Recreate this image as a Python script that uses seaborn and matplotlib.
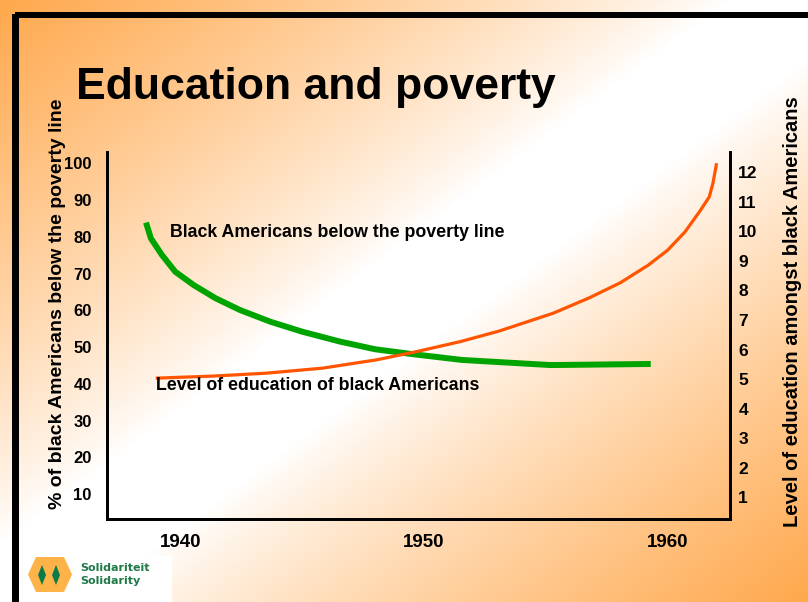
import numpy as np
import pandas as pd
import matplotlib
matplotlib.use("Agg")
import matplotlib.pyplot as plt
from matplotlib.patches import Rectangle, Polygon
from matplotlib import font_manager
import seaborn as sns

# ---- data ----
years_poverty = [1938.6, 1938.8, 1939.25, 1939.8, 1940.55, 1941.45, 1942.45, 1943.7,
                 1945.0, 1946.55, 1948.0, 1949.5, 1951.55, 1953.1, 1955.2, 1959.3]
poverty_pct = [83.9, 79.6, 75.1, 70.5, 66.9, 63.3, 60.1, 56.9,
               54.2, 51.5, 49.4, 48.1, 46.5, 45.9, 45.1, 45.4]

years_education = [1939.0, 1941.35, 1943.55, 1945.85, 1948.05, 1949.7, 1951.5, 1953.1,
                   1955.3, 1956.75, 1958.05, 1959.2, 1960.0, 1960.7, 1961.3, 1961.7,
                   1961.85, 1962.0]
education_level = [5.03, 5.10, 5.20, 5.37, 5.65, 5.93, 6.27, 6.63,
                   7.23, 7.74, 8.26, 8.86, 9.37, 9.98, 10.67, 11.17,
                   11.63, 12.31]

x_ticks = [1940, 1950, 1960]
left_ticks = [10, 20, 30, 40, 50, 60, 70, 80, 90, 100]
right_ticks = list(range(1, 13))

title = "Education and poverty"
left_label = "% of black Americans below the poverty line"
right_label = "Level of education amongst black Americans"
poverty_note = "Black Americans below the poverty line"
education_note = "Level of education of black Americans"

df_pov = pd.DataFrame({"year": years_poverty, "value": poverty_pct})
df_edu = pd.DataFrame({"year": years_education, "value": education_level})

sns.set_style("white")
plt.rcParams["font.family"] = ["Liberation Sans", "DejaVu Sans"]
for k in ("text.color", "axes.labelcolor", "xtick.color", "ytick.color"):
    plt.rcParams[k] = "black"

installed = {f.name for f in font_manager.fontManager.ttflist}
narrow = ["Liberation Sans Narrow", "Liberation Sans"] if "Liberation Sans Narrow" in installed \
    else ["Liberation Sans"]

W, H = 808, 602
fig = plt.figure(figsize=(W / 100, H / 100), dpi=100)

# ---- background gradient ----
bg = fig.add_axes([0, 0, 1, 1], zorder=-10)
yy, xx = np.mgrid[0:H, 0:W]
d = xx / W + yy / H - 1
a = np.clip((np.abs(d) - 0.1) / 0.9, 0, 1) ** 0.85
orange = np.array([255, 168, 76]) / 255
img = 1 - a[..., None] * (1 - orange)
bg.imshow(img, aspect="auto", extent=[0, W, H, 0])
bg.set_xlim(0, W)
bg.set_ylim(H, 0)
bg.axis("off")

# frame (black bars top and left)
bg.add_patch(Rectangle((15, 11.5), W - 15, 6.2, color="black", lw=0))
bg.add_patch(Rectangle((12, 14), 7, H - 14, color="black", lw=0))

# logo
bg.add_patch(Rectangle((19, 556), 153, 46, color="white", lw=0))
bg.add_patch(Polygon([(28, 574.5), (36, 557), (64, 557), (72, 574.5), (64, 592), (36, 592)],
                     closed=True, color="#FDB347", lw=0))
for cx in (42, 56):
    bg.add_patch(Polygon([(cx - 4, 575), (cx, 565), (cx + 4, 575), (cx, 585)],
                         closed=True, color="#0B7A4B", lw=0))
bg.text(80, 568, "Solidariteit", color="#1F7A48", fontsize=8, fontweight="bold",
        va="center", ha="left", family=["DejaVu Sans"])
bg.text(80, 581, "Solidarity", color="#1F7A48", fontsize=8, fontweight="bold",
        va="center", ha="left", family=["DejaVu Sans"])

# ---- main axes ----
ax = fig.add_axes([107 / W, 1 - 519 / H, (730 - 107) / W, (519 - 152) / H])
ax.set_facecolor("none")
ax2 = ax.twinx()
ax2.set_facecolor("none")

sns.lineplot(data=df_pov, x="year", y="value", ax=ax, color="#00A400", lw=4.3,
             solid_capstyle="butt")
sns.lineplot(data=df_edu, x="year", y="value", ax=ax2, color="#FF5500", lw=2.3,
             solid_capstyle="butt")

ax.set_xlim(1937.0, 1962.55)
ax.set_ylim(3.2, 103.1)
ax2.set_ylim(0.26, 12.69)

ax.set_xticks(x_ticks)
ax.set_xticklabels([str(t) for t in x_ticks], fontsize=13.5, fontweight="bold")
ax.set_yticks(left_ticks)
ax.set_yticklabels([str(t) for t in left_ticks], fontsize=12, fontweight="bold",
                   family=narrow)
ax2.set_yticks(right_ticks)
ax2.set_yticklabels([str(t) for t in right_ticks], fontsize=12.5, fontweight="bold")

ax.tick_params(axis="x", length=0, pad=11)
ax.tick_params(axis="y", length=0, pad=11)
ax2.tick_params(axis="y", length=0, pad=6)
ax.set_xlabel("")
ax.set_ylabel("")
ax2.set_ylabel("")

for a_ in (ax, ax2):
    for s in ("left", "right", "bottom"):
        a_.spines[s].set_visible(True)
        a_.spines[s].set_color("black")
        a_.spines[s].set_linewidth(2.0)
    a_.spines["top"].set_visible(False)
    a_.grid(False)

# ---- texts ----
fig.text(76 / W, 1 - 87 / H, title, fontsize=32, fontweight="bold", ha="left", va="center",
         family=["Liberation Sans"])
fig.text(58 / W, 1 - 304 / H, left_label, fontsize=14, fontweight="bold",
         rotation=90, ha="center", va="center")
fig.text(793 / W, 1 - 312 / H, right_label, fontsize=14.5, fontweight="bold",
         rotation=90, ha="center", va="center")
fig.text(170 / W, 1 - 233 / H, poverty_note, fontsize=12.75, fontweight="bold",
         ha="left", va="center")
fig.text(156 / W, 1 - 385 / H, education_note, fontsize=12.75, fontweight="bold",
         ha="left", va="center")

fig.savefig("out.png", dpi=100)
